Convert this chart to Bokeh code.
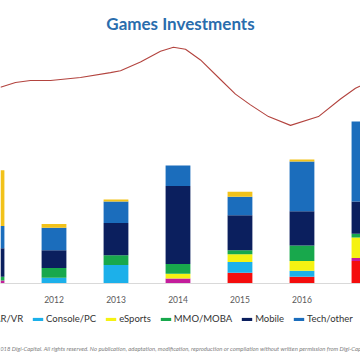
from bokeh.plotting import figure
from bokeh.models import (Range1d, FixedTicker, Legend, LegendItem, Label,
                          ColumnDataSource)
from bokeh.layouts import column
from bokeh.embed import file_html
from bokeh.resources import INLINE

# ---- data (US$ M) ----
years = [2011, 2012, 2013, 2014, 2015, 2016, 2017]
ar_vr = [0, 0, 0, 0, 110, 70, 230]
casual = [30, 0, 0, 50, 0, 0, 30]
console_pc = [0, 60, 190, 0, 110, 60, 0]
esports = [0, 0, 0, 50, 80, 100, 210]
mmo_moba = [40, 100, 100, 100, 40, 160, 40]
mobile = [290, 180, 330, 800, 360, 350, 330]
tech_other = [230, 230, 220, 210, 190, 510, 820]
social = [570, 40, 20, 0, 50, 20, 0]

# decorative trend wave
wave_year = [2011.137, 2011.379, 2011.621, 2011.944, 2012.427, 2012.911, 2013.073,
             2013.395, 2013.718, 2013.927, 2014.121, 2014.363, 2014.685, 2014.927,
             2015.169, 2015.460, 2015.815, 2016.266, 2016.621, 2016.863, 2017.024]
wave_value = [2010, 2060, 2080, 2080, 2110, 2160, 2180, 2270, 2380, 2420, 2400,
              2290, 2090, 1940, 1830, 1710, 1620, 1710, 1890, 2000, 2050]

series = ["AR/VR", "Casual", "Console/PC", "eSports", "MMO/MOBA", "Mobile",
          "Tech/other", "Social"]
colors = ["#f40d0d", "#c41d9c", "#1cb0ea", "#f5f212", "#18a84c", "#0b1f5e",
          "#1b6dbc", "#f2c21a"]
legend_series = ["AR/VR", "Console/PC", "eSports", "MMO/MOBA", "Mobile", "Tech/other"]
footer_text = ("\u00a9 2018 Digi-Capital. All rights reserved. No publication, adaptation, "
               "modification, reproduction or compilation without written permission "
               "from Digi-Capital.")

source = ColumnDataSource(dict(year=years, **{
    "AR/VR": ar_vr, "Casual": casual, "Console/PC": console_pc, "eSports": esports,
    "MMO/MOBA": mmo_moba, "Mobile": mobile, "Tech/other": tech_other,
    "Social": social}))

W = 360
TOP = 38
AXIS_H = 16
H1 = 305
frame_h = H1 - TOP - AXIS_H

p = figure(width=W, height=H1, output_backend="svg", toolbar_location=None,
           x_range=Range1d(2011.137, 2016.944), y_range=Range1d(0, frame_h * 10),
           y_axis_location=None, min_border_left=0, min_border_right=0,
           min_border_top=TOP, min_border_bottom=AXIS_H)
p.outline_line_color = None
p.grid.visible = False

p.title.text = "Games Investments"
p.title.align = "center"
p.title.text_font = "Lato"
p.title.text_font_style = "bold"
p.title.text_font_size = "17px"
p.title.text_color = "#2a6dad"

rs = p.vbar_stack(series, x="year", width=0.4, color=colors, source=source,
                  line_color=None)

p.line(wave_year, wave_value, line_color="#b3443f", line_width=1.1)

ax = p.xaxis[0]
ax.ticker = FixedTicker(ticks=years)
ax.major_tick_line_color = None
ax.minor_tick_line_color = None
ax.axis_line_color = "#d9d9d9"
ax.major_label_text_font = "Lato"
ax.major_label_text_font_size = "8.5px"
ax.major_label_text_color = "#595959"
ax.major_label_standoff = 6

# ---- legend + footer strip ----
H2 = 360 - H1
q = figure(width=W, height=H2, output_backend="svg", toolbar_location=None,
           x_range=Range1d(0, 1), y_range=Range1d(0, 1),
           x_axis_location=None, y_axis_location=None,
           min_border=0, min_border_left=0, min_border_right=0,
           min_border_top=0, min_border_bottom=0)
q.outline_line_color = None
q.grid.visible = False

# zero-size proxies that only carry the legend swatch colours
proxy_src = ColumnDataSource(dict(x=[0], y=[0]))
swatches = [q.rect(x="x", y="y", width=0, height=0, source=proxy_src,
                   fill_color=colors[series.index(s)], line_color=None)
            for s in legend_series]
items = [LegendItem(label=s, renderers=[r]) for s, r in zip(legend_series, swatches)]
legend = Legend(items=items, orientation="horizontal", location=(-21, 36),
                glyph_width=13, glyph_height=4, label_standoff=2, spacing=8,
                padding=0, margin=0, border_line_color=None,
                background_fill_alpha=0, label_text_font="Lato",
                label_text_font_size="9.5px", label_text_color="#333333")
q.add_layout(legend)

footer = Label(x=-10, y=12, x_units="screen", y_units="screen", text=footer_text,
               text_font="Lato", text_font_style="italic", text_font_size="5.9px",
               text_color="#808080", text_baseline="middle")
q.add_layout(footer)

open("out.html", "w").write(file_html(column(p, q, spacing=0), INLINE))
